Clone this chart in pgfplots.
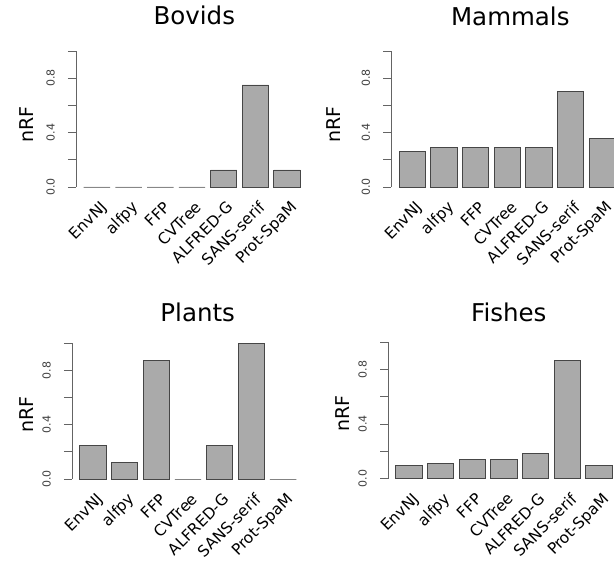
\documentclass[border=0pt]{standalone}
\usepackage{fontspec}
\setmainfont{DejaVu Sans}
\usepackage{pgfplots}
\pgfplotsset{compat=1.18}
\definecolor{barfill}{RGB}{170,170,170}
\definecolor{barline}{RGB}{70,70,70}
\definecolor{axisgray}{RGB}{100,100,100}
\pgfplotsset{
 nrfbars/.style={fill=barfill, draw=barline, line width=0.9pt},
 nrf/.style={
  x=31.7pt, y=136pt, scale only axis,
  xmin=-0.66, xmax=6.66, ymin=0, ymax=1,
  axis x line*=bottom, axis y line*=left,
  x axis line style={draw=none},
  y axis line style={axisgray, line width=0.9pt, -},
  xtick={0,...,6},
  xticklabels={EnvNJ,alfpy,FFP,CVTree,ALFRED-G,SANS-serif,Prot-SpaM},
  x tick style={draw=none},
  xticklabel style={xshift=8pt, yshift=-10.5pt, rotate=45, anchor=east, inner sep=0pt,
    text height=11pt, text depth=3pt, font=\fontsize{15.5}{15.5}\selectfont},
  ytick={0,0.2,0.4,0.6,0.8,1},
  yticklabels={0.0,{},0.4,{},0.8,{}},
  y tick style={axisgray, line width=0.9pt},
  tick align=outside, major tick length=8pt,
  yticklabel style={xshift=-13pt, rotate=90, anchor=south, inner sep=0pt, font=\fontsize{11}{11}\selectfont, text=black!75},
  /pgf/number format/assume math mode=true,
  ylabel=nRF,
  title style={font=\fontsize{24.5}{24.5}\selectfont, anchor=base, at={(axis description cs:0.5,1)}},
  ybar, bar width=0.8333, clip=false,
 }}
\begin{document}
\begin{tikzpicture}
\path[use as bounding box] (0,0) rectangle (614pt,566pt);
\clip (0,0) rectangle (614pt,566pt);
% Bovids
\begin{axis}[nrf, at={(76pt,379pt)}, anchor=south west,
  title=Bovids, title style={xshift=2.3pt, yshift=20.7pt},
  ylabel style={font=\fontsize{19}{19}\selectfont, at={(axis description cs:0,0.457)}, anchor=center, yshift=49.3pt}]
\addplot[nrfbars] coordinates {(0,0) (1,0) (2,0) (3,0) (4,0.125) (5,0.75) (6,0.125)};
\end{axis}
% Mammals
\begin{axis}[nrf, at={(391.3pt,379pt)}, anchor=south west,
  title=Mammals, title style={xshift=3pt, yshift=19pt},
  ylabel style={font=\fontsize{19}{19}\selectfont, at={(axis description cs:0,0.457)}, anchor=center, yshift=57.6pt}]
\addplot[nrfbars] coordinates {(0,0.262) (1,0.293) (2,0.293) (3,0.293) (4,0.293) (5,0.70) (6,0.355)};
\end{axis}
% Plants
\begin{axis}[nrf, y=135.7pt, at={(72pt,87pt)}, anchor=south west,
  title=Plants, title style={xshift=9.7pt, yshift=16.3pt},
  ylabel style={font=\fontsize{19}{19}\selectfont, at={(axis description cs:0,0.474)}, anchor=center, yshift=45.3pt}]
\addplot[nrfbars] coordinates {(0,0.25) (1,0.125) (2,0.875) (3,0) (4,0.25) (5,1.0) (6,0)};
\end{axis}
% Fishes
\begin{axis}[nrf, y=136.4pt, at={(388pt,87.3pt)}, anchor=south west,
  title=Fishes, title style={xshift=4.8pt, yshift=15pt},
  ylabel style={font=\fontsize{19}{19}\selectfont, at={(axis description cs:0,0.48)}, anchor=center, yshift=45pt}]
\addplot[nrfbars] coordinates {(0,0.095) (1,0.11) (2,0.139) (3,0.139) (4,0.183) (5,0.868) (6,0.095)};
\end{axis}
\end{tikzpicture}
\end{document}
